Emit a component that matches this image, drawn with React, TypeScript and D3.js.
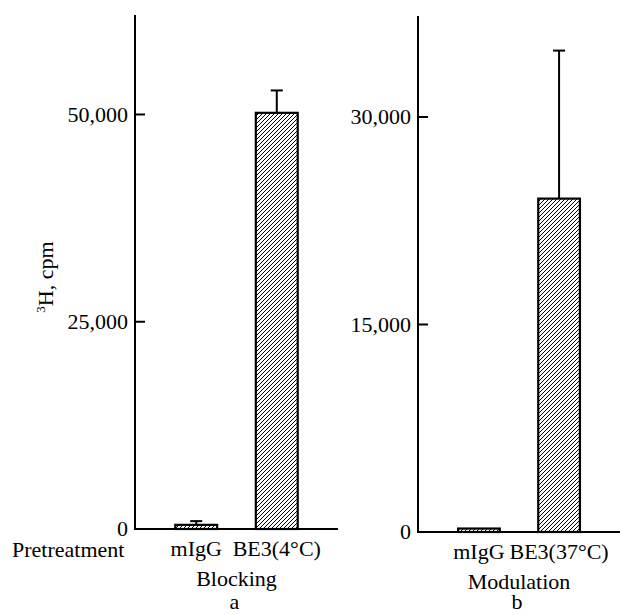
import React, { useEffect, useRef } from 'react';
import * as d3 from 'd3';

// values (3H, cpm)
const blockingLabels = ['mIgG', 'BE3(4°C)'];
const blockingValues = [500, 50200];
const blockingErrors = [450, 2700];
const blockingTicks = [0, 25000, 50000];

const modulationLabels = ['mIgG', 'BE3(37°C)'];
const modulationValues = [250, 24100];
const modulationErrors = [0, 10700];
const modulationTicks = [0, 15000, 30000];

const FONT = '"Liberation Serif", "Times New Roman", serif';

const drawPanel = (svg, cfg) => {
  const { labels, values, errors, ticks, yMax, x0, x1, yBottom, yTop, group, letter } = cfg;

  const x = d3.scaleBand()
    .domain(labels)
    .range([x0, x1])
    .paddingInner(0.48)
    .paddingOuter(0.5);

  const y = d3.scaleLinear()
    .domain([0, yMax])
    .range([yBottom, yTop]);

  const g = svg.append('g');

  // bars
  g.selectAll('rect.bar')
    .data(values)
    .enter()
    .append('rect')
      .attr('class', 'bar')
      .attr('x', (d, i) => x(labels[i]))
      .attr('y', d => y(d))
      .attr('width', x.bandwidth())
      .attr('height', d => y(0) - y(d))
      .attr('fill', 'url(#hatch)')
      .attr('stroke', '#000')
      .attr('stroke-width', 2.2);

  // error bars (upper only)
  values.forEach((v, i) => {
    if (!errors[i]) return;
    const cx = x(labels[i]) + x.bandwidth() / 2;
    g.append('line')
      .attr('x1', cx).attr('x2', cx)
      .attr('y1', y(v)).attr('y2', y(v + errors[i]))
      .attr('stroke', '#000').attr('stroke-width', 2);
    g.append('line')
      .attr('x1', cx - 6).attr('x2', cx + 6)
      .attr('y1', y(v + errors[i])).attr('y2', y(v + errors[i]))
      .attr('stroke', '#000').attr('stroke-width', 2);
  });

  // y axis line and baseline
  g.append('line')
    .attr('x1', x0).attr('x2', x0)
    .attr('y1', y(yMax)).attr('y2', y(0) + 1)
    .attr('stroke', '#000').attr('stroke-width', 2);
  g.append('line')
    .attr('x1', x0).attr('x2', x1)
    .attr('y1', y(0)).attr('y2', y(0))
    .attr('stroke', '#000').attr('stroke-width', 2);

  // ticks point inward
  g.selectAll('line.tick')
    .data(ticks.filter(t => t > 0))
    .enter()
    .append('line')
      .attr('class', 'tick')
      .attr('x1', x0).attr('x2', x0 + 10)
      .attr('y1', d => y(d)).attr('y2', d => y(d))
      .attr('stroke', '#000').attr('stroke-width', 2);

  g.selectAll('text.tl')
    .data(ticks)
    .enter()
    .append('text')
      .attr('class', 'tl')
      .attr('x', x0 - 7)
      .attr('y', d => y(d))
      .attr('dy', '0.33em')
      .attr('text-anchor', 'end')
      .text(d => d3.format(',')(d));

  // category labels
  g.selectAll('text.cat')
    .data(labels)
    .enter()
    .append('text')
      .attr('class', 'cat')
      .attr('x', d => x(d) + x.bandwidth() / 2)
      .attr('y', yBottom + 27)
      .attr('text-anchor', 'middle')
      .text(d => d);

  const mid = (x(labels[0]) + x(labels[labels.length - 1]) + x.bandwidth()) / 2;
  g.append('text')
    .attr('x', mid).attr('y', yBottom + 57)
    .attr('text-anchor', 'middle')
    .text(group);
  g.append('text')
    .attr('x', mid - 2).attr('y', 609)
    .attr('text-anchor', 'middle')
    .text(letter);
};

const App = () => {
  const ref = useRef(null);

  useEffect(() => {
    const svg = d3.select(ref.current);
    svg.selectAll('*').remove();

    svg.attr('font-family', FONT).attr('font-size', 22).attr('fill', '#000');

    const defs = svg.append('defs');
    const pat = defs.append('pattern')
      .attr('id', 'hatch')
      .attr('patternUnits', 'userSpaceOnUse')
      .attr('width', 4)
      .attr('height', 4);
    pat.append('rect').attr('width', 4).attr('height', 4).attr('fill', '#fff');
    pat.append('path')
      .attr('d', 'M-1,1 l2,-2 M0,4 l4,-4 M3,5 l2,-2')
      .attr('stroke', '#000')
      .attr('stroke-width', 1);

    drawPanel(svg, {
      labels: blockingLabels,
      values: blockingValues,
      errors: blockingErrors,
      ticks: blockingTicks,
      yMax: 62000,
      x0: 135, x1: 338,
      yBottom: 529, yTop: 15,
      group: 'Blocking',
      letter: 'a',
    });

    drawPanel(svg, {
      labels: modulationLabels,
      values: modulationValues,
      errors: modulationErrors,
      ticks: modulationTicks,
      yMax: 37300,
      x0: 418, x1: 620,
      yBottom: 532, yTop: 16,
      group: 'Modulation',
      letter: 'b',
    });

    svg.append('text')
      .attr('x', 12).attr('y', 557)
      .text('Pretreatment');

    const yl = svg.append('text')
      .attr('transform', 'translate(53,277) rotate(-90)')
      .attr('text-anchor', 'middle');
    yl.append('tspan').attr('font-size', 13).attr('dy', -8).text('3');
    yl.append('tspan').attr('dy', 8).text('H, cpm');
  }, []);

  return (
    <svg
      ref={ref}
      width={620}
      height={615}
      style={{ position: 'absolute', left: 0, top: 0, background: '#fff' }}
    />
  );
};

export default App;
